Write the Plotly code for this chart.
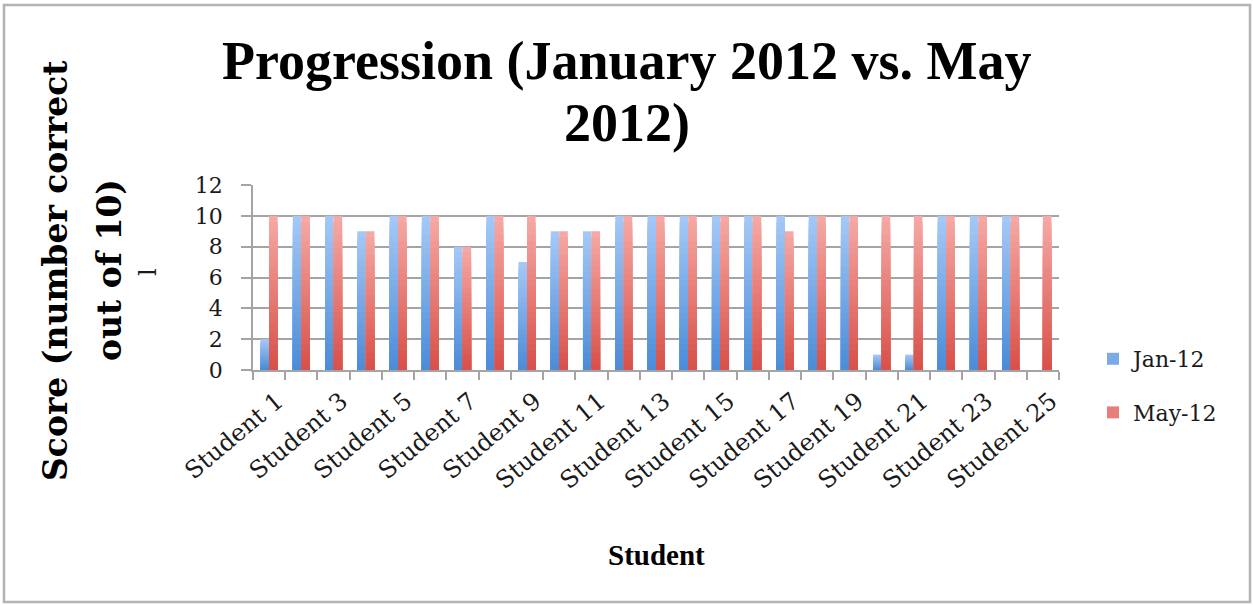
import plotly.graph_objects as go

# Scores per student (number correct out of 10)
students = [f"Student {i}" for i in range(1, 26)]
jan_scores = [2, 10, 10, 9, 10, 10, 8, 10, 7, 9, 9, 10, 10, 10, 10, 10, 10, 10, 10, 1, 1, 10, 10, 10, 0]
may_scores = [10, 10, 10, 9, 10, 10, 8, 10, 10, 9, 9, 10, 10, 10, 10, 10, 9, 10, 10, 10, 10, 10, 10, 10, 10]
series_names = ["Jan-12", "May-12"]
tick_labels = [s if i % 2 == 0 else "" for i, s in enumerate(students)]

W, H = 1253, 605
L, R, T, B = 253, 194, 185, 235
PW, PH = W - L - R, H - T - B


def px_x(x):
    return (x - L) / PW


def px_y(y):
    return (H - B - y) / PH


def mix(c0, c1, t):
    a = [int(c0[i:i + 2], 16) for i in (1, 3, 5)]
    b = [int(c1[i:i + 2], 16) for i in (1, 3, 5)]
    return "rgb({},{},{})".format(*[round(a[j] + (b[j] - a[j]) * t) for j in range(3)])


# bottom / top colours of each bar's vertical gradient
gradients = {
    "Jan-12": ("#4a8bd7", "#a6c9f6"),
    "May-12": ("#d84f48", "#f6aaa6"),
}
offsets = {"Jan-12": -0.265, "May-12": 0.0}
bar_w = 0.265
N_STEPS = 24

fig = go.Figure()
for name, vals in zip(series_names, [jan_scores, may_scores]):
    lo, hi = gradients[name]
    # full bars drawn from the top colour down; each shorter, darker layer sits on top,
    # so the stack reads as one bar with a vertical gradient
    for k in range(N_STEPS - 1, -1, -1):
        t = (k + 0.5) / N_STEPS
        fig.add_trace(go.Bar(
            x=students,
            y=[v * (k + 1) / N_STEPS for v in vals],
            width=bar_w,
            offset=offsets[name],
            marker=dict(color=mix(lo, hi, t), line=dict(width=0)),
            name=name,
            legendgroup=name,
            showlegend=(k == N_STEPS // 2),
            hoverinfo="skip",
        ))

grid = "#a4a4a4"
text_col = "#1a1a1a"

fig.update_layout(
    width=W, height=H, autosize=False,
    margin=dict(l=L, r=R, t=T, b=B),
    paper_bgcolor="white", plot_bgcolor="white",
    barmode="overlay",
    showlegend=True,
    legend=dict(
        x=px_x(1093), y=px_y(338), xanchor="left", yanchor="top",
        font=dict(family="DejaVu Serif", size=22, color=text_col),
        tracegroupgap=22, bgcolor="rgba(0,0,0,0)",
    ),
    xaxis=dict(
        type="category",
        tickmode="array", tickvals=students, ticktext=tick_labels,
        tickson="boundaries", ticks="outside", ticklen=8, tickcolor=grid, tickwidth=1.5,
        tickangle=-40, ticklabelshift=8, ticklabelstandoff=6,
        tickfont=dict(family="DejaVu Serif", size=24, color=text_col),
        showline=True, linecolor=grid, linewidth=1.5,
        showgrid=False, zeroline=False,
        range=[-0.5, 24.5],
    ),
    yaxis=dict(
        range=[0, 12], dtick=2, tick0=0,
        showgrid=True, gridcolor=grid, gridwidth=1.5,
        showline=True, linecolor=grid, linewidth=1.5,
        ticks="outside", ticklen=10, tickcolor=grid, tickwidth=1.5,
        ticklabelstandoff=14,
        tickfont=dict(family="DejaVu Serif", size=22, color=text_col),
        zeroline=False,
    ),
)

annots = [
    dict(text="<b>Progression (January 2012 vs. May</b>", x=px_x(627), y=px_y(61),
         font=dict(family="Liberation Serif", size=54, color="#000")),
    dict(text="<b>2012)</b>", x=px_x(627), y=px_y(123),
         font=dict(family="Liberation Serif", size=54, color="#000")),
    dict(text="<b>Score (number correct</b>", x=px_x(55), y=px_y(271), textangle=-90,
         font=dict(family="DejaVu Serif", size=33, color="#000")),
    dict(text="<b>out of 10)</b>", x=px_x(109), y=px_y(270), textangle=-90,
         font=dict(family="DejaVu Serif", size=33, color="#000")),
    dict(text="l", x=px_x(148), y=px_y(272), textangle=-90,
         font=dict(family="DejaVu Serif", size=24, color=text_col)),
    dict(text="<b>Student</b>", x=px_x(656), y=px_y(555),
         font=dict(family="Liberation Serif", size=29, color="#000")),
]
for a in annots:
    fig.add_annotation(xref="paper", yref="paper", showarrow=False,
                       xanchor="center", yanchor="middle", **a)

# chart frame
fig.add_shape(type="rect", xref="paper", yref="paper",
              x0=px_x(4), x1=px_x(1250), y0=px_y(602), y1=px_y(5),
              line=dict(color="#b3b3b3", width=2.5), fillcolor="rgba(0,0,0,0)", layer="above")

fig.write_html("out.html")
